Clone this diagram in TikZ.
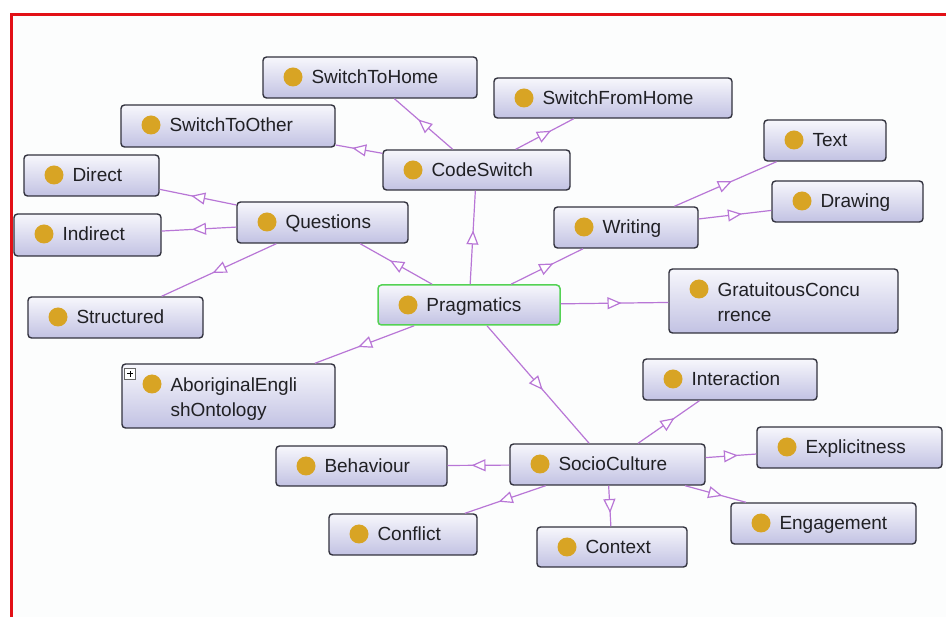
\documentclass[tikz,border=0pt]{standalone}
\usepackage{fontspec}
\setmainfont{Liberation Sans}
\usetikzlibrary{arrows.meta,decorations.markings}

\definecolor{frame}{RGB}{226,16,22}
\definecolor{canvas}{RGB}{252,253,253}
\definecolor{boxline}{RGB}{50,50,62}
\definecolor{boxtop}{RGB}{247,247,252}
\definecolor{boxbot}{RGB}{194,194,227}
\definecolor{dot}{RGB}{216,164,36}
\definecolor{isa}{RGB}{184,118,214}
\definecolor{focus}{RGB}{84,210,84}
\definecolor{ink}{RGB}{32,32,36}

\tikzset{
  x=1pt, y=-1pt,
  % ontology class box with its gold bullet
  cls/.style={draw=boxline, line width=1.4pt, rounded corners=3.5pt,
    top color=boxtop, bottom color=boxbot, inner sep=0pt,
    path picture={\fill[dot] ([shift={(30,20)}]path picture bounding box.north west) circle[radius=9.5pt];}},
  % class name, set left-aligned after the bullet
  lbl/.style={anchor=base west, inner sep=0pt, align=left, text=ink,
    font=\fontsize{19}{25}\selectfont},
  % subclass link with an open triangle half way
  isa/.style={draw=isa, line width=1.2pt, postaction={decorate},
    decoration={markings, mark=at position 0.5 with {
      \begin{scope}[xshift=7pt]
        \arrow{Triangle[length=14pt,width=12pt,fill=white,line width=1.2pt]}
      \end{scope}}}},
  expander/.style={draw=black!60, fill=white, line width=0.6pt, inner sep=0pt,
    minimum width=11pt, minimum height=11pt,
    path picture={\draw[black, line width=1pt]
      ([xshift=-3pt]path picture bounding box.center) -- ([xshift=3pt]path picture bounding box.center)
      ([yshift=-3pt]path picture bounding box.center) -- ([yshift=3pt]path picture bounding box.center);}},
}

\begin{document}
\begin{tikzpicture}
\useasboundingbox (0,0) rectangle (946,617);
\fill[white] (0,0) rectangle (946,617);
\fill[canvas] (11.5,14.5) rectangle (960,640);
\draw[frame, line width=3pt] (11.5,14.5) rectangle (960,640);

% classes
\node[cls, minimum width=214, minimum height=41] (home)    at (370,77.5)   {};
\node[cls, minimum width=238, minimum height=40] (fromhome) at (613,98)    {};
\node[cls, minimum width=214, minimum height=42] (other)   at (228,126)    {};
\node[cls, minimum width=187, minimum height=40] (code)    at (476.5,170)  {};
\node[cls, minimum width=122, minimum height=41] (text)    at (825,140.5)  {};
\node[cls, minimum width=135, minimum height=41] (direct)  at (91.5,175.5) {};
\node[cls, minimum width=151, minimum height=41] (drawing) at (847.5,201.5){};
\node[cls, minimum width=171, minimum height=41] (quest)   at (322.5,222.5){};
\node[cls, minimum width=144, minimum height=41] (writing) at (626,227.5)  {};
\node[cls, minimum width=147, minimum height=42] (indirect) at (87.5,235)  {};
\node[cls, draw=focus, line width=1.5pt, minimum width=182, minimum height=40] (prag) at (469,305) {};
\node[cls, minimum width=229, minimum height=64] (gratuit) at (783.5,301)  {};
\node[cls, minimum width=175, minimum height=41] (struct)  at (115.5,317.5){};
\node[cls, minimum width=213, minimum height=64] (abo)     at (228.5,396)  {};
\node[cls, minimum width=174, minimum height=41] (interact) at (730,379.5) {};
\node[cls, minimum width=185, minimum height=41] (explicit) at (849.5,447.5){};
\node[cls, minimum width=171, minimum height=40] (behav)   at (361.5,466)  {};
\node[cls, minimum width=195, minimum height=41] (socio)   at (607.5,464.5){};
\node[cls, minimum width=185, minimum height=41] (engage)  at (823.5,523.5){};
\node[cls, minimum width=148, minimum height=41] (conflict) at (403,534.5) {};
\node[cls, minimum width=150, minimum height=40] (context) at (612,547)    {};

\node[expander] (abo-plus) at (130,374) {};

% class names
\foreach \n/\t in {home/SwitchToHome, fromhome/SwitchFromHome, other/SwitchToOther,
    code/CodeSwitch, text/Text, direct/Direct, drawing/Drawing, quest/Questions,
    writing/Writing, indirect/Indirect, prag/Pragmatics, struct/Structured,
    interact/Interaction, explicit/Explicitness, behav/Behaviour, socio/SocioCulture,
    engage/Engagement, conflict/Conflict, context/Context}
  \node[lbl] (\n-t) at ([shift={(49,27)}]\n.north west) {\t};
% two-line names: the base anchor sits on the last line
\node[lbl] (gratuit-t) at ([shift={(49,53)}]gratuit.north west) {GratuitousConcu\\rrence};
\node[lbl] (abo-t) at ([shift={(49,53)}]abo.north west) {AboriginalEngli\\shOntology};

% subclass links
\foreach \a/\b in {code/home, code/fromhome, code/other, prag/code,
    quest/direct, quest/indirect, quest/struct, prag/quest,
    prag/writing, writing/text, writing/drawing, prag/gratuit, prag/abo,
    prag/socio, socio/interact, socio/explicit, socio/engage, socio/behav,
    socio/conflict, socio/context}
  \draw[isa] (\a) -- (\b);
\end{tikzpicture}
\end{document}
